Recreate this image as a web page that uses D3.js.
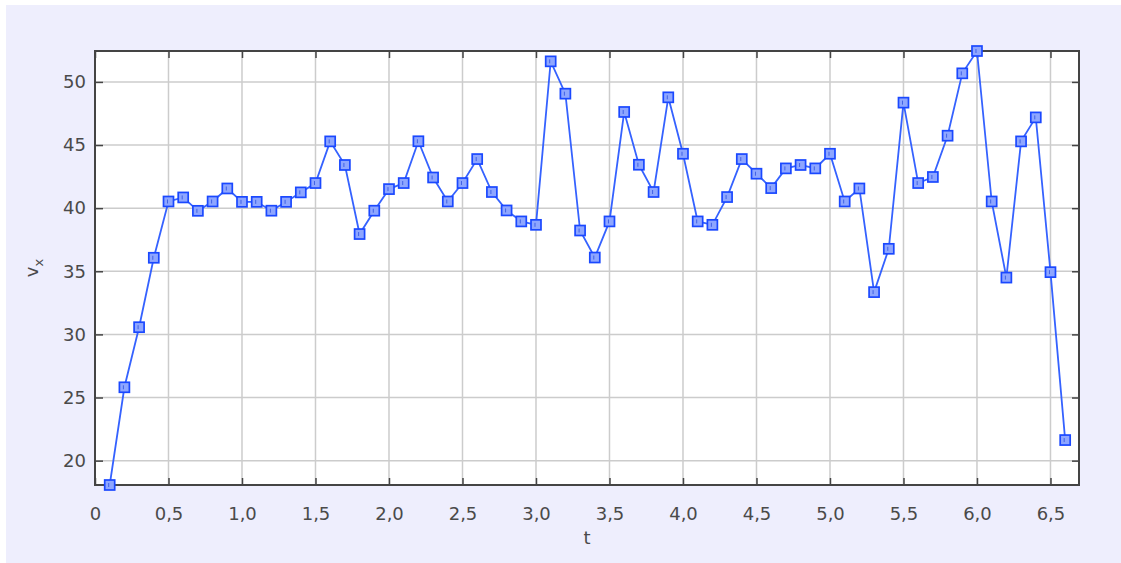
<!DOCTYPE html>
<html>
<head>
<meta charset="utf-8">
<script src="https://cdn.jsdelivr.net/npm/d3@7/dist/d3.min.js"></script>
<style>
  html, body { margin: 0; padding: 0; background: #ffffff; }
  svg { display: block; }
</style>
</head>
<body>
<svg id="chart" width="1121" height="563"></svg>
<script>
// ---- data ----
const tValues = [0.1,0.2,0.3,0.4,0.5,0.6,0.7,0.8,0.9,1.0,1.1,1.2,1.3,1.4,1.5,1.6,1.7,1.8,1.9,2.0,
  2.1,2.2,2.3,2.4,2.5,2.6,2.7,2.8,2.9,3.0,3.1,3.2,3.3,3.4,3.5,3.6,3.7,3.8,3.9,4.0,
  4.1,4.2,4.3,4.4,4.5,4.6,4.7,4.8,4.9,5.0,5.1,5.2,5.3,5.4,5.5,5.6,5.7,5.8,5.9,6.0,
  6.1,6.2,6.3,6.4,6.5,6.6];
const vxValues = [18.07,25.81,30.57,36.07,40.53,40.85,39.79,40.53,41.56,40.5,40.5,39.8,40.5,41.25,41.99,45.29,43.42,37.95,39.8,41.51,
  41.99,45.3,42.43,40.53,41.99,43.89,41.28,39.82,38.95,38.68,51.63,49.07,38.23,36.09,38.95,47.62,43.44,41.28,48.78,44.31,
  38.95,38.68,40.88,43.89,42.73,41.59,43.15,43.42,43.15,44.31,40.53,41.56,33.35,36.78,48.36,41.99,42.47,45.74,50.68,52.45,
  40.53,34.5,45.29,47.19,34.93,21.63];
const xTicks = [0,0.5,1.0,1.5,2.0,2.5,3.0,3.5,4.0,4.5,5.0,5.5,6.0,6.5];
const xTickLabels = ["0","0,5","1,0","1,5","2,0","2,5","3,0","3,5","4,0","4,5","5,0","5,5","6,0","6,5"];
const yTicks = [20,25,30,35,40,45,50];
const xLabel = "t";
const yLabel = "v";
const yLabelSub = "x";

// ---- layout ----
const W = 1121, H = 563;
const plot = { left: 95, right: 1079, top: 51, bottom: 485 };
const svg = d3.select("#chart");
const font = "'DejaVu Sans', Verdana, sans-serif";

svg.append("rect").attr("x", 6).attr("y", 5).attr("width", W - 6).attr("height", H - 5)
  .attr("fill", "#eeeefd");
svg.append("rect").attr("x", plot.left).attr("y", plot.top)
  .attr("width", plot.right - plot.left).attr("height", plot.bottom - plot.top)
  .attr("fill", "#ffffff");

const x = d3.scaleLinear().domain([0, 6.694]).range([plot.left, plot.right]);
const ext = d3.extent(vxValues);
const y = d3.scaleLinear().domain(ext).range([plot.bottom, plot.top]);

const data = tValues.map((t, i) => ({ t, v: vxValues[i] }));

// grid
const grid = svg.append("g");
grid.selectAll(".vg").data(xTicks.filter(d => d > 0)).join("line")
  .attr("x1", d => x(d)).attr("x2", d => x(d))
  .attr("y1", plot.top).attr("y2", plot.bottom)
  .attr("stroke", "#cccccc").attr("stroke-width", 1.5);
grid.selectAll(".hg").data(yTicks).join("line")
  .attr("x1", plot.left).attr("x2", plot.right)
  .attr("y1", d => y(d)).attr("y2", d => y(d))
  .attr("stroke", "#cccccc").attr("stroke-width", 1.5);

// axes using d3 axis generators
const axisColor = "#444444";
const fmtX = d => xTickLabels[xTicks.indexOf(d)];

const bottomAxis = svg.append("g").attr("transform", `translate(0,${plot.bottom})`)
  .call(d3.axisBottom(x).tickValues(xTicks).tickFormat(fmtX).tickSizeInner(-7).tickSizeOuter(0).tickPadding(22));
const topAxis = svg.append("g").attr("transform", `translate(0,${plot.top})`)
  .call(d3.axisTop(x).tickValues(xTicks).tickFormat("").tickSizeInner(-7).tickSizeOuter(0));
const leftAxis = svg.append("g").attr("transform", `translate(${plot.left},0)`)
  .call(d3.axisLeft(y).tickValues(yTicks).tickFormat(d3.format("d")).tickSizeInner(-8).tickSizeOuter(0).tickPadding(9));
const rightAxis = svg.append("g").attr("transform", `translate(${plot.right},0)`)
  .call(d3.axisRight(y).tickValues(yTicks).tickFormat("").tickSizeInner(-7).tickSizeOuter(0));

[bottomAxis, topAxis, leftAxis, rightAxis].forEach(g => {
  g.select(".domain").remove();
  g.selectAll(".tick line").attr("stroke", axisColor).attr("stroke-width", 1.5);
  g.selectAll(".tick text").attr("fill", "#4a4a4a").attr("font-family", font).attr("font-size", 18);
});

// frame
svg.append("rect").attr("x", plot.left).attr("y", plot.top)
  .attr("width", plot.right - plot.left).attr("height", plot.bottom - plot.top)
  .attr("fill", "none").attr("stroke", axisColor).attr("stroke-width", 2);

// axis titles
svg.append("text").attr("x", (plot.left + plot.right) / 2).attr("y", 544)
  .attr("text-anchor", "middle").attr("font-family", font).attr("font-size", 18)
  .attr("fill", "#4a4a4a").text(xLabel);
const yt = svg.append("text")
  .attr("transform", `translate(38,268) rotate(-90)`)
  .attr("text-anchor", "middle").attr("font-family", font).attr("font-size", 18)
  .attr("fill", "#4a4a4a");
yt.append("tspan").text(yLabel);
yt.append("tspan").attr("font-size", 13).attr("dy", 5).text(yLabelSub);

// line + markers
const line = d3.line().x(d => x(d.t)).y(d => y(d.v));
svg.append("path").datum(data).attr("d", line)
  .attr("fill", "none").attr("stroke", "#3562ff").attr("stroke-width", 1.8);

const m = svg.append("g").selectAll("g").data(data).join("g")
  .attr("transform", d => `translate(${x(d.t)},${y(d.v)})`);
m.append("rect").attr("x", -5).attr("y", -5).attr("width", 10).attr("height", 10)
  .attr("fill", "#8ea6ff").attr("stroke", "#1a48ff").attr("stroke-width", 1.7);
m.append("line").attr("x1", -1).attr("x2", -1).attr("y1", -2).attr("y2", 2)
  .attr("stroke", "#2d50e0").attr("stroke-width", 0.8);
</script>
</body>
</html>
